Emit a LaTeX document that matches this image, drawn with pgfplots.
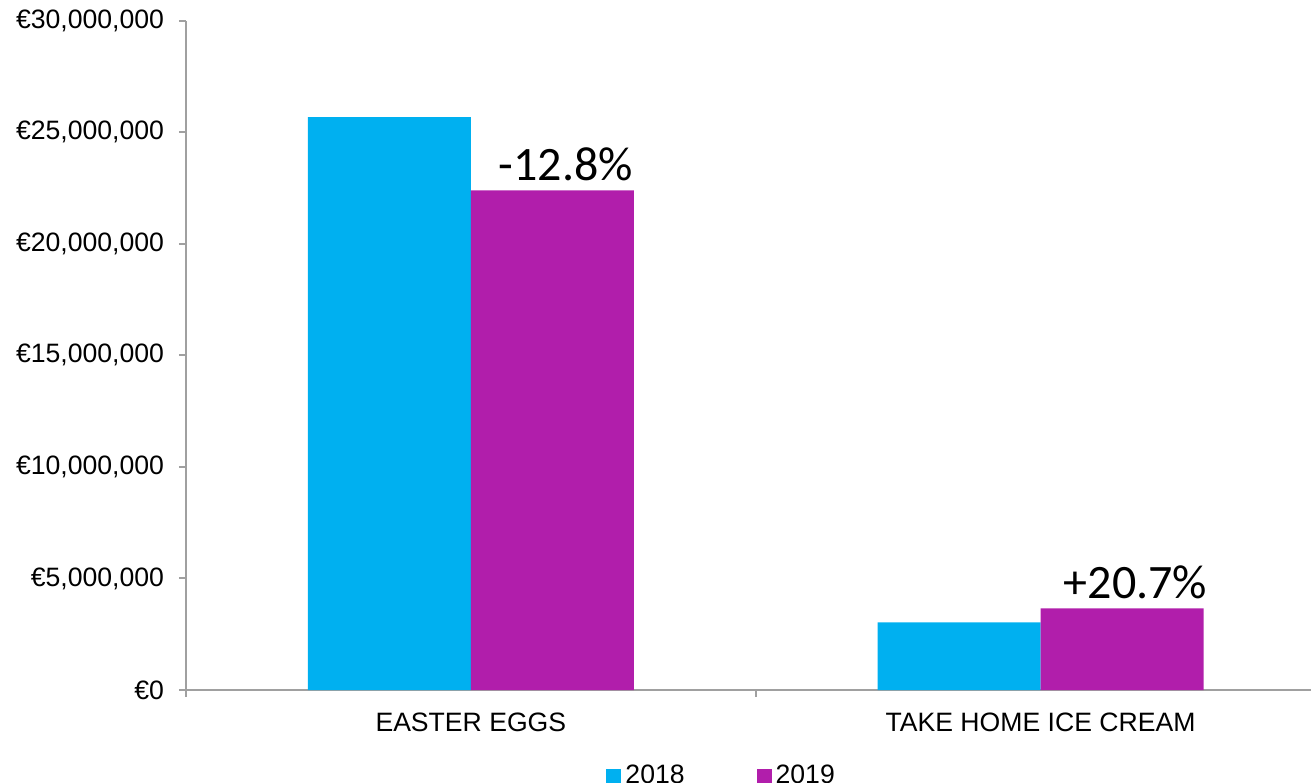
\documentclass[border=0pt]{standalone}
\usepackage{pgfplots}
\pgfplotsset{compat=1.18}
\usepackage{fontspec}
\setmainfont{Liberation Sans}
\newfontfamily\calibri{Carlito}
\definecolor{c18}{HTML}{00B0F0}
\definecolor{c19}{HTML}{B11EAB}
\definecolor{axgray}{HTML}{A0A0A0}
\begin{document}
\begin{tikzpicture}
\path[use as bounding box] (-93pt,-46pt) rectangle (562.5pt,345pt);
\begin{axis}[
  scale only axis, width=569.7pt, height=334.65pt,
  ymin=0, ymax=30000000, xmin=-0.5, xmax=1.5,
  scaled y ticks=false,
  ybar=0pt, bar width=81.5pt,
  axis x line*=bottom, axis y line*=left,
  axis line style={axgray, line width=1pt, -},
  ytick={0,5000000,10000000,15000000,20000000,25000000,30000000},
  yticklabels={{€0},{€5,000,000},{€10,000,000},{€15,000,000},{€20,000,000},{€25,000,000},{€30,000,000}},
  xtick={0,1}, xticklabels={EASTER EGGS, TAKE HOME ICE CREAM},
  minor xtick={-0.5,0.5,1.5},
  major x tick style={draw=none},
  tick align=outside, major tick length=3.5pt, minor tick length=3.5pt,
  tick style={axgray, line width=1pt},
  ticklabel style={font=\fontsize{13.3}{16}\selectfont},
  yticklabel style={xshift=-4pt},
  xticklabel style={yshift=-4.5pt},
  legend style={at={(0.471,-0.1)}, anchor=north, draw=none, legend columns=2,
    font=\fontsize{13.3}{16}\selectfont,
    /tikz/every even column/.append style={column sep=34pt}},
  legend image code/.code={\fill[#1] (0pt,-3.75pt) rectangle (7.5pt,3.75pt);},
  point meta=explicit symbolic,
]
\addplot[fill=c18, draw=none] coordinates {(0,25680000) (1,3030000)};
\addplot[fill=c19, draw=none,
  nodes near coords, every node near coord/.append style={font=\calibri\fontsize{24}{28}\selectfont, text=black, anchor=base, xshift=6.75pt, yshift=5pt}]
  coordinates {(0,22400000) [-12.8\%] (1,3660000) [+20.7\%]};
\legend{2018, 2019}
\end{axis}
\end{tikzpicture}
\end{document}
